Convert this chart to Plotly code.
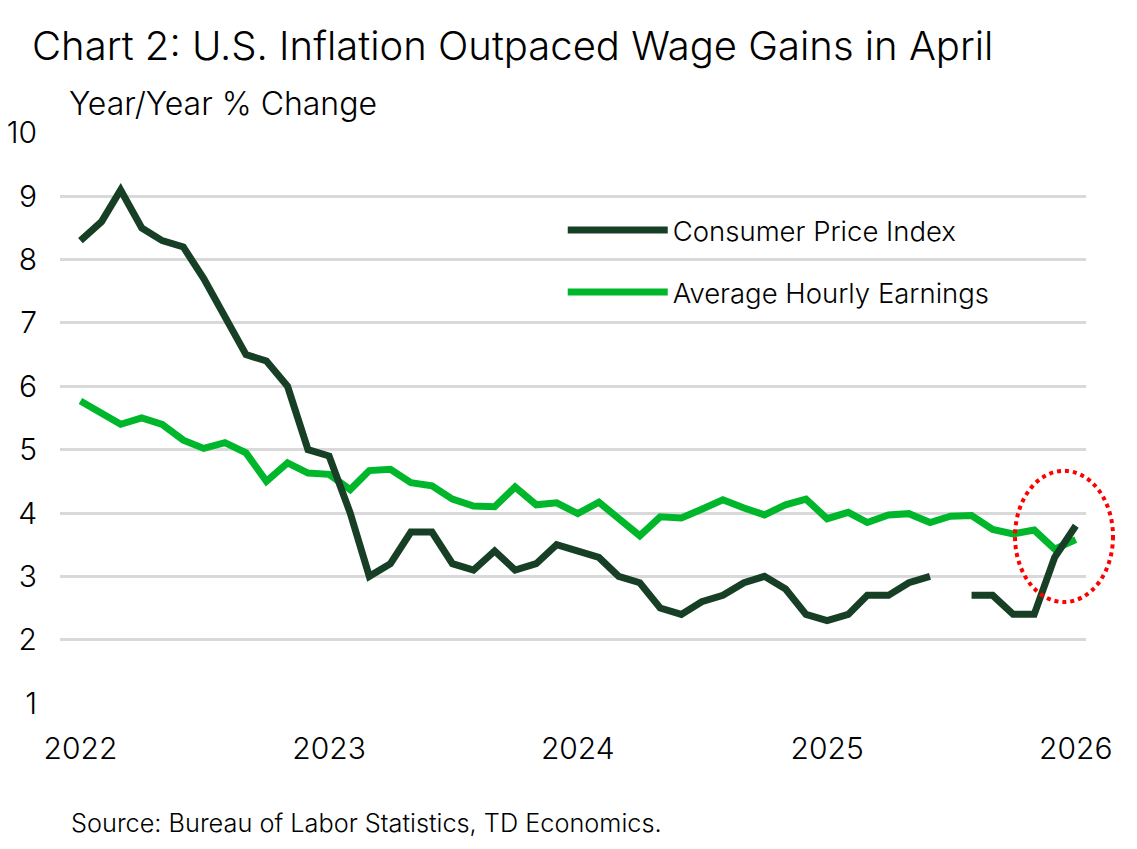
import pandas as pd
import plotly.graph_objects as go

dates = pd.date_range("2022-01-01", periods=49, freq="MS")

cpi = [8.3, 8.6, 9.1, 8.5, 8.3, 8.2, 7.7, 7.1, 6.5, 6.4,
       6.0, 5.0, 4.9, 4.0, 3.0, 3.2, 3.7, 3.7, 3.2, 3.1,
       3.4, 3.1, 3.2, 3.5, 3.4, 3.3, 3.0, 2.9, 2.5, 2.4,
       2.6, 2.7, 2.9, 3.0, 2.8, 2.4, 2.3, 2.4, 2.7, 2.7,
       2.9, 3.0, None, 2.7, 2.7, 2.4, 2.4, 3.3, 3.8]

ahe = [5.77, 5.56, 5.40, 5.50, 5.40, 5.15, 5.02, 5.11, 4.95, 4.50,
       4.79, 4.63, 4.61, 4.37, 4.67, 4.69, 4.48, 4.43, 4.22, 4.11,
       4.10, 4.41, 4.13, 4.16, 3.99, 4.17, 3.93, 3.64, 3.94, 3.92,
       4.06, 4.21, 4.08, 3.97, 4.13, 4.22, 3.91, 4.01, 3.85, 3.97,
       3.99, 3.85, 3.95, 3.96, 3.74, 3.67, 3.73, 3.43, 3.58]

y_ticks = [1, 2, 3, 4, 5, 6, 7, 8, 9, 10]

FONT = "Inter"
DARK = "#173f25"
BRIGHT = "#00b72b"

# page offset (body margin) compensation
O = 8
W, H = 1137 - 2 * O, 849 - 2 * O
# plot area in page pixels
PX0, PX1, PY0, PY1 = 60, 1086, 131.7, 704
L, R, T, B = PX0 - O, W - (PX1 - O), PY0 - O, H - (PY1 - O)
PW, PH = PX1 - PX0, PY1 - PY0


def px(xp):
    return (xp - PX0) / PW


def py(yp):
    return (PY1 - yp) / PH


fig = go.Figure()
fig.add_trace(go.Scatter(x=dates, y=ahe, mode="lines", name="Average Hourly Earnings",
                         line=dict(color=BRIGHT, width=7), legend="legend2"))
fig.add_trace(go.Scatter(x=dates, y=cpi, mode="lines", name="Consumer Price Index",
                         line=dict(color=DARK, width=7), connectgaps=False,
                         legend="legend"))

leg_common = dict(font=dict(family=FONT, size=27.5, color="#000", weight=300),
                  itemwidth=100, bgcolor="rgba(0,0,0,0)",
                  xanchor="left", yanchor="middle", visible=True)

fig.update_layout(
    width=W, height=H,
    margin=dict(l=L, r=R, t=T, b=B, autoexpand=False),
    plot_bgcolor="white", paper_bgcolor="white",
    showlegend=True,
    font=dict(family=FONT, color="#000"),
    title=dict(text="Chart 2: U.S. Inflation Outpaced Wage Gains in April",
               font=dict(family=FONT, size=40, color="#000", weight=300),
               xref="container", yref="container", x=(32 - O) / W, xanchor="left",
               y=1 - (46 - O) / H, yanchor="middle"),
    legend=dict(x=0.49, y=py(230), **leg_common),
    legend2=dict(x=0.49, y=py(292), **leg_common),
    xaxis=dict(range=["2021-12-02", "2026-01-16"], tick0="2022-01-01", dtick="M12",
               tickformat="%Y", showgrid=False, zeroline=False, showline=False,
               ticks="", tickfont=dict(family=FONT, size=30, color="#000", weight=300),
               ticklabelstandoff=24),
    yaxis=dict(range=[0.985, 10.015], tickvals=y_ticks, showgrid=True,
               gridcolor="#d9d9d9", gridwidth=2.5, zeroline=False, showline=False,
               ticks="", tickfont=dict(family=FONT, size=30, color="#000", weight=300),
               ticklabelstandoff=22),
    annotations=[
        dict(text="Year/Year % Change", xref="paper", yref="paper",
             x=px(67), y=py(103), xanchor="left", yanchor="middle", showarrow=False,
             font=dict(family=FONT, size=32, color="#000", weight=300)),
        dict(text="Source: Bureau of Labor Statistics, TD Economics.", xref="paper",
             yref="paper", x=px(69), y=py(823), xanchor="left", yanchor="middle",
             showarrow=False,
             font=dict(family=FONT, size=25.3, color="#000", weight=300)),
    ],
    shapes=[
        dict(type="circle", xref="paper", yref="paper",
             x0=px(1015), x1=px(1113), y0=py(602), y1=py(470.7),
             line=dict(color="#ff0000", width=4, dash="dot"), layer="above"),
    ],
)

fig.write_html("out.html")
